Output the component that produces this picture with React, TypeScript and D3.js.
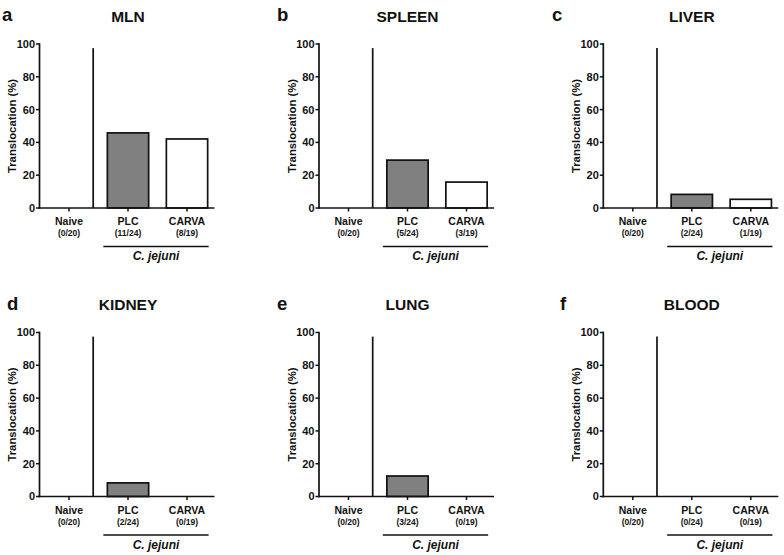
import React from "react";
import * as d3 from "d3";

const panelLetters = ["a", "b", "c", "d", "e", "f"];
const organs = ["MLN", "SPLEEN", "LIVER", "KIDNEY", "LUNG", "BLOOD"];
const groups = ["Naive", "PLC", "CARVA"];
const naiveValues = [0, 0, 0, 0, 0, 0];
const plcValues = [45.8, 29.2, 8.3, 8.3, 12.5, 0];
const carvaValues = [42.1, 15.8, 5.3, 0, 0, 0];
const naiveCounts = ["(0/20)", "(0/20)", "(0/20)", "(0/20)", "(0/20)", "(0/20)"];
const plcCounts = ["(11/24)", "(5/24)", "(2/24)", "(2/24)", "(3/24)", "(0/24)"];
const carvaCounts = ["(8/19)", "(3/19)", "(1/19)", "(0/19)", "(0/19)", "(0/19)"];
const yTicks = [0, 20, 40, 60, 80, 100];
const groupLabel = "C. jejuni";
const yTitle = "Translocation (%)";
const fills = ["#ffffff", "#808080", "#ffffff"];

const W = 784;
const H = 555;
const colX = [39.5, 319, 603.3];
const letterX = [[2, 277, 552], [7, 277, 560]];
const rowTop = [44, 332.5];
const plotH = 164;
const plotW = 175;
const bandW = 177;
const FONT = "'Liberation Sans', Arial, Helvetica, sans-serif";
const INK = "#111";

function Panel({ idx }: { idx: number }) {
  const row = Math.floor(idx / 3);
  const col = idx % 3;
  const x0 = colX[col];
  const y0 = rowTop[row];
  const x = d3.scaleBand<string>().domain(groups).range([x0, x0 + bandW]).paddingInner(0.3).paddingOuter(0.15);
  const y = d3.scaleLinear().domain([0, 100]).range([y0 + plotH, y0]);
  const vals = [naiveValues[idx], plcValues[idx], carvaValues[idx]];
  const counts = [naiveCounts[idx], plcCounts[idx], carvaCounts[idx]];
  const bw = x.bandwidth();
  const sepX = (x("PLC") as number) - x.step() * 0.24;
  const baseY = y(0);
  const centers = groups.map((g) => (x(g) as number) + bw / 2);
  const ulStart = (x("PLC") as number) - 4;
  const ulEnd = (x("CARVA") as number) + bw + 1;
  return (
    <g>
      <text x={letterX[row][col]} y={y0 - 23} fontFamily={FONT} fontWeight="bold" fontSize={18.5} fill={INK}>
        {panelLetters[idx]}
      </text>
      <text x={x0 + 88.5} y={y0 - 22.3} textAnchor="middle" fontFamily={FONT} fontWeight="bold" fontSize={15.5} fill={INK}>
        {organs[idx]}
      </text>
      {groups.map((g, i) =>
        vals[i] > 0 ? (
          <rect key={g} x={x(g)} y={y(vals[i])} width={bw} height={baseY - y(vals[i])} fill={fills[i]} stroke={INK} strokeWidth={1.7} />
        ) : null
      )}
      <line x1={sepX} x2={sepX} y1={baseY} y2={y(97.5)} stroke={INK} strokeWidth={1.7} />
      <line x1={x0} x2={x0} y1={y(100) - 0.8} y2={baseY + 0.8} stroke={INK} strokeWidth={1.7} />
      {yTicks.map((t) => (
        <g key={t}>
          <line x1={x0 - 3.5} x2={x0} y1={y(t)} y2={y(t)} stroke={INK} strokeWidth={1.5} />
          <text x={x0 - 4.5} y={y(t)} dy="0.36em" textAnchor="end" fontFamily={FONT} fontWeight="bold" fontSize={11} fill={INK}>
            {t}
          </text>
        </g>
      ))}
      <text
        transform={`translate(${x0 - 23.5},${y(50)}) rotate(-90)`}
        textAnchor="middle"
        fontFamily={FONT}
        fontWeight="bold"
        fontSize={11.3}
        fill={INK}
      >
        {yTitle}
      </text>
      <line x1={x0 - 0.8} x2={x0 + plotW} y1={baseY} y2={baseY} stroke={INK} strokeWidth={1.7} />
      {groups.map((g, i) => (
        <g key={g}>
          <line x1={centers[i]} x2={centers[i]} y1={baseY} y2={baseY + 3.5} stroke={INK} strokeWidth={1.5} />
          <text x={centers[i]} y={baseY + 17} textAnchor="middle" fontFamily={FONT} fontWeight="bold" fontSize={10.5} fill={INK}>
            {g}
          </text>
          <text x={centers[i]} y={baseY + 28} textAnchor="middle" fontFamily={FONT} fontWeight="bold" fontSize={8.5} fill={INK}>
            {counts[i]}
          </text>
        </g>
      ))}
      <line x1={ulStart} x2={ulEnd} y1={baseY + 38.5} y2={baseY + 38.5} stroke={INK} strokeWidth={1.5} />
      <text
        x={(ulStart + ulEnd) / 2}
        y={baseY + 52}
        textAnchor="middle"
        fontFamily={FONT}
        fontWeight="bold"
        fontStyle="italic"
        fontSize={12}
        fill={INK}
      >
        {groupLabel}
      </text>
    </g>
  );
}

export default function App() {
  return (
    <svg width={W} height={H} style={{ position: "absolute", left: 0, top: 0, background: "#fff" }}>
      <rect width={W} height={H} fill="#fff" />
      {organs.map((_, i) => (
        <Panel key={i} idx={i} />
      ))}
    </svg>
  );
}
